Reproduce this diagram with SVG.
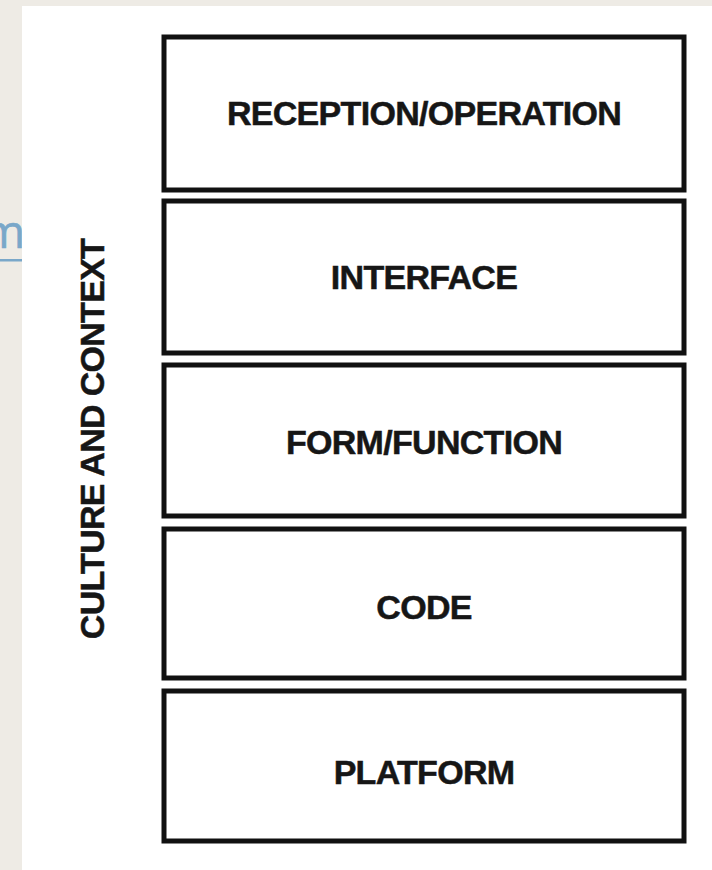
<svg xmlns="http://www.w3.org/2000/svg" width="712" height="870" viewBox="0 0 712 870">
  <style>
    .box { fill: #ffffff; stroke: #111111; stroke-width: 5; }
    .lbl { font-family: "Liberation Sans", Arial, Helvetica, sans-serif; font-weight: bold; font-size: 34px; fill: #161616; stroke: #161616; stroke-width: 0.5px; text-anchor: middle; letter-spacing: -0.7px; }
    .link { font-family: "Open Sans", "Noto Sans", sans-serif; font-size: 46px; fill: #79a7c9; stroke: #79a7c9; stroke-width: 0.6px; text-anchor: end; }
  </style>
  <rect x="0" y="0" width="712" height="870" fill="#eeebe5"/>
  <g id="link-fragment">
    <text class="link" x="25" y="248">m</text>
    <rect x="0" y="259" width="22" height="2.5" fill="#79a7c9"/>
  </g>
  <rect x="22" y="6" width="690" height="864" fill="#ffffff"/>
  <g id="side-label">
    <text class="lbl" transform="translate(104,439) rotate(-90)">CULTURE AND CONTEXT</text>
  </g>
  <g id="reception-operation">
    <rect class="box" x="164" y="37" width="520" height="153"/>
    <text class="lbl" x="424" y="125">RECEPTION/OPERATION</text>
  </g>
  <g id="interface">
    <rect class="box" x="164" y="201" width="520" height="152"/>
    <text class="lbl" x="424" y="289">INTERFACE</text>
  </g>
  <g id="form-function">
    <rect class="box" x="164" y="365" width="520" height="151"/>
    <text class="lbl" x="424" y="454">FORM/FUNCTION</text>
  </g>
  <g id="code">
    <rect class="box" x="164" y="529" width="520" height="149"/>
    <text class="lbl" x="424" y="619">CODE</text>
  </g>
  <g id="platform">
    <rect class="box" x="164" y="691" width="520" height="150"/>
    <text class="lbl" x="424" y="784">PLATFORM</text>
  </g>
</svg>
